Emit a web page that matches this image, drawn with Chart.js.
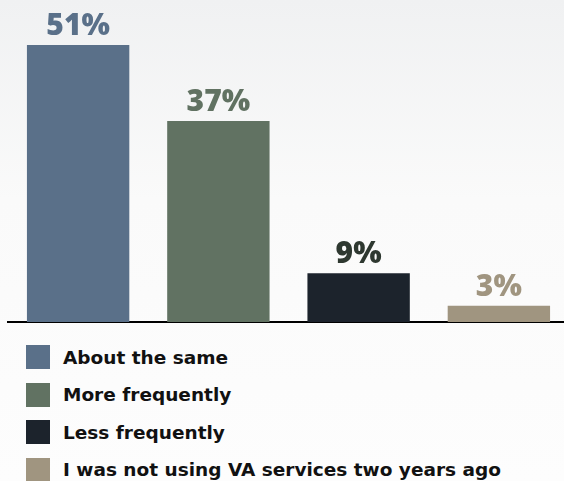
<!DOCTYPE html>
<html>
<head>
<meta charset="utf-8">
<script src="https://cdn.jsdelivr.net/npm/chart.js@4/dist/chart.umd.min.js"></script>
<style>
  html, body { margin: 0; padding: 0; }
  body {
    width: 564px; height: 481px; overflow: hidden; position: relative;
    background: linear-gradient(to bottom, #f0f1f2 0px, #fafafa 200px, #fdfdfd 481px);
  }
  #wrap { position: absolute; left: 0; top: 0; width: 569px; height: 330px; }
  #legend { position: absolute; left: 26px; top: 345px; margin: 0; padding: 0; list-style: none; }
  #legend li { display: flex; align-items: center; height: 24px; margin-bottom: 13.5px; }
  #legend .sw { width: 24px; height: 24px; margin-right: 13px; flex: none; }
  #legend .tx { font-family: "DejaVu Sans", sans-serif; font-weight: 700; font-size: 18.5px; color: #111; white-space: nowrap; }
</style>
</head>
<body>
<div id="wrap"><canvas id="c"></canvas></div>
<ul id="legend"></ul>
<script>
// Survey answers and their shares (percent)
const categories = ["About the same", "More frequently", "Less frequently", "I was not using VA services two years ago"];
const shares = [51, 37, 9, 3];
const barColors = ["#5a7089", "#617262", "#1c232c", "#a09580"];
const labelColors = ["#5a7089", "#617262", "#2e3830", "#a09580"];

// Percent labels written above each bar
const valueLabels = {
  id: "valueLabels",
  afterDatasetsDraw(chart) {
    const ctx = chart.ctx;
    const meta = chart.getDatasetMeta(0);
    ctx.save();
    ctx.font = "800 30px 'Open Sans', sans-serif";
    ctx.textAlign = "center";
    ctx.textBaseline = "alphabetic";
    meta.data.forEach((bar, i) => {
      ctx.fillStyle = labelColors[i];
      ctx.fillText(shares[i] + "%", bar.x, bar.y - 10);
    });
    ctx.restore();
  }
};

new Chart(document.getElementById("c"), {
  type: "bar",
  data: {
    labels: categories,
    datasets: [{
      data: shares,
      backgroundColor: barColors,
      borderWidth: 0,
      categoryPercentage: 1,
      barPercentage: 0.73
    }]
  },
  options: {
    responsive: true,
    maintainAspectRatio: false,
    animation: false,
    layout: { padding: { left: 8, right: 0, top: 0, bottom: 8 } },
    plugins: { legend: { display: false }, tooltip: { enabled: false } },
    scales: {
      x: {
        grid: { display: false, drawTicks: false },
        ticks: { display: false },
        border: { display: true, color: "#000", width: 2 }
      },
      y: { display: false, min: 0, max: 59.3 }
    }
  },
  plugins: [valueLabels]
});

// Legend list built from the same categories and colours
const legend = document.getElementById("legend");
categories.forEach((name, i) => {
  const li = document.createElement("li");
  const sw = document.createElement("span");
  sw.className = "sw";
  sw.style.background = barColors[i];
  const tx = document.createElement("span");
  tx.className = "tx";
  tx.textContent = name;
  li.appendChild(sw);
  li.appendChild(tx);
  legend.appendChild(li);
});
</script>
</body>
</html>
